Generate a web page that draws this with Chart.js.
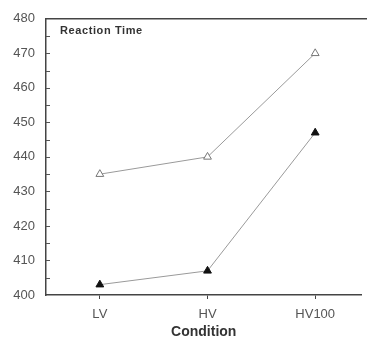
<!DOCTYPE html>
<html>
<head>
<meta charset="utf-8">
<script src="https://cdn.jsdelivr.net/npm/chart.js@4/dist/chart.umd.min.js"></script>
<style>
  html, body { margin: 0; padding: 0; background: #fff; }
  #wrap { width: 367px; height: 341px; }
</style>
</head>
<body>
<div id="wrap"><canvas id="rtChart" width="367" height="341"></canvas></div>
<script>
// Chart data
const conditions = ['LV', 'HV', 'HV100'];
const openSeries = [435, 440, 470];    // open triangles
const filledSeries = [403, 407, 447];  // filled triangles
const yTicks = [400, 410, 420, 430, 440, 450, 460, 470, 480];

const FONT = "'Liberation Sans', Arial, Helvetica, sans-serif";

// Small inward tick marks on the y axis + top frame line + inner title
const framePlugin = {
    id: 'frame',
    afterDraw(chart) {
        const { ctx, chartArea, scales } = chart;
        const y = scales.y;
        ctx.save();
        ctx.strokeStyle = '#444';
        ctx.lineWidth = 1.5;
        ctx.beginPath();
        ctx.moveTo(chartArea.left, chartArea.top);
        ctx.lineTo(chart.width, chartArea.top);
        ctx.stroke();

        ctx.lineWidth = 1;
        ctx.strokeStyle = '#555';
        for (let v = 405; v < 480; v += 5) {
            const py = Math.round(y.getPixelForValue(v)) + 0.5;
            ctx.beginPath();
            ctx.moveTo(chartArea.left, py);
            ctx.lineTo(chartArea.left + 4, py);
            ctx.stroke();
        }

        ctx.fillStyle = '#333';
        ctx.font = 'bold 11px ' + FONT;
        ctx.letterSpacing = '0.6px';
        ctx.textBaseline = 'middle';
        ctx.fillText('Reaction Time', chartArea.left + 14, chartArea.top + 12);
        ctx.restore();
    }
};

const ctx = document.getElementById('rtChart').getContext('2d');
ctx.letterSpacing = '0.8px';
new Chart(ctx, {
    type: 'line',
    data: {
        datasets: [{
            label: 'open',
            data: openSeries.map((v, i) => ({ x: i, y: v })),
            borderColor: '#9a9a9a',
            borderWidth: 1,
            pointStyle: 'triangle',
            pointRadius: 4.5,
            pointBackgroundColor: '#fff',
            pointBorderColor: '#777',
            pointBorderWidth: 1
        }, {
            label: 'filled',
            data: filledSeries.map((v, i) => ({ x: i, y: v })),
            borderColor: '#9a9a9a',
            borderWidth: 1,
            pointStyle: 'triangle',
            pointRadius: 4.5,
            pointBackgroundColor: '#111',
            pointBorderColor: '#111',
            pointBorderWidth: 1
        }]
    },
    options: {
        responsive: false,
        animation: false,
        layout: { padding: { top: 18, right: -5, left: 0, bottom: 0 } },
        plugins: {
            legend: { display: false },
            tooltip: { enabled: false }
        },
        scales: {
            x: {
                type: 'linear',
                min: -0.5,
                max: 2.43,
                afterBuildTicks: (scale) => {
                    scale.ticks = conditions.map((c, i) => ({ value: i }));
                },
                afterFit: (scale) => { scale.height = 46; },
                ticks: {
                    callback: (v) => conditions[v],
                    color: '#555',
                    font: { family: FONT, size: 13 },
                    padding: 8,
                    maxRotation: 0
                },
                grid: {
                    drawOnChartArea: false,
                    drawTicks: true,
                    tickLength: 4,
                    color: '#444'
                },
                border: { color: '#444', width: 1.5 },
                title: {
                    display: true,
                    text: 'Condition',
                    color: '#333',
                    font: { family: FONT, size: 14, weight: 'bold' },
                    padding: { top: 0, bottom: 0 }
                }
            },
            y: {
                min: 400,
                max: 480,
                afterBuildTicks: (scale) => {
                    scale.ticks = yTicks.map(v => ({ value: v }));
                },
                afterFit: (scale) => { scale.width = 46; },
                ticks: {
                    color: '#555',
                    font: { family: FONT, size: 13 },
                    padding: 11
                },
                grid: {
                    drawOnChartArea: false,
                    drawTicks: false
                },
                border: { color: '#444', width: 1.5 }
            }
        }
    },
    plugins: [framePlugin]
});
</script>
</body>
</html>
